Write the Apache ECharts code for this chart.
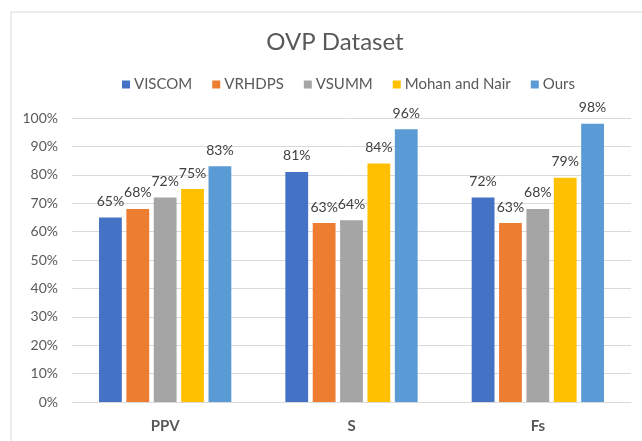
<!DOCTYPE html>
<html>
<head>
<meta charset="utf-8">
<script src="https://cdn.jsdelivr.net/npm/echarts@6/dist/echarts.min.js"></script>
<style>
  html, body { margin: 0; padding: 0; background: #fff; }
  #chart { width: 642px; height: 441px; }
</style>
</head>
<body>
<div id="chart"></div>
<script>
// metrics on the x axis
const categories = ['PPV', 'S', 'Fs'];

// scores per method, in percent
const viscom = [65, 81, 72];
const vrhdps = [68, 63, 63];
const vsumm = [72, 64, 68];
const mohanNair = [75, 84, 79];
const ours = [83, 96, 98];

const seriesNames = ['VISCOM', 'VRHDPS', 'VSUMM', 'Mohan and Nair', 'Ours'];
const seriesData = [viscom, vrhdps, vsumm, mohanNair, ours];
const colors = ['#4472C4', '#ED7D31', '#A5A5A5', '#FFC000', '#5B9BD5'];

const font = 'Lato, "Open Sans", sans-serif';

const chart = echarts.init(document.getElementById('chart'));

chart.setOption({
  animation: false,
  textStyle: { fontFamily: font },
  graphic: [
    {
      // the light frame around the chart, open on the right and bottom
      type: 'polyline',
      shape: { points: [[11, 441], [11, 12], [642, 12]] },
      style: { stroke: '#d9d9d9', lineWidth: 1, fill: null }
    }
  ],
  title: {
    text: 'OVP Dataset',
    left: 330,
    textAlign: 'center',
    top: 25,
    textStyle: { fontSize: 24, fontWeight: 'normal', color: '#595959', fontFamily: font }
  },
  legend: {
    data: seriesNames,
    top: 72,
    left: 117,
    itemWidth: 8,
    itemHeight: 8,
    itemGap: 20,
    icon: 'rect',
    textStyle: { fontSize: 15, color: '#595959', fontFamily: font, padding: [0, 0, 0, -1] }
  },
  grid: { left: 72, right: 11, top: 118, bottom: 39 },
  xAxis: {
    type: 'category',
    data: categories,
    axisTick: { show: false },
    axisLine: { lineStyle: { color: '#d9d9d9' } },
    axisLabel: { fontSize: 15, fontWeight: 'bold', color: '#595959', margin: 17, fontFamily: font }
  },
  yAxis: {
    type: 'value',
    min: 0,
    max: 100,
    interval: 10,
    axisLine: { show: false },
    axisTick: { show: false },
    splitLine: { lineStyle: { color: '#d9d9d9' } },
    axisLabel: { formatter: '{value}%', fontSize: 14, color: '#595959', margin: 14, fontFamily: font }
  },
  series: seriesNames.map((name, i) => ({
    name: name,
    type: 'bar',
    data: seriesData[i],
    barGap: '20%',
    barCategoryGap: '29%',
    itemStyle: { color: colors[i] },
    label: {
      show: true,
      position: 'top',
      distance: 9,
      formatter: '{c}%',
      fontSize: 14,
      color: '#404040',
      fontFamily: font
    }
  }))
});
</script>
</body>
</html>
